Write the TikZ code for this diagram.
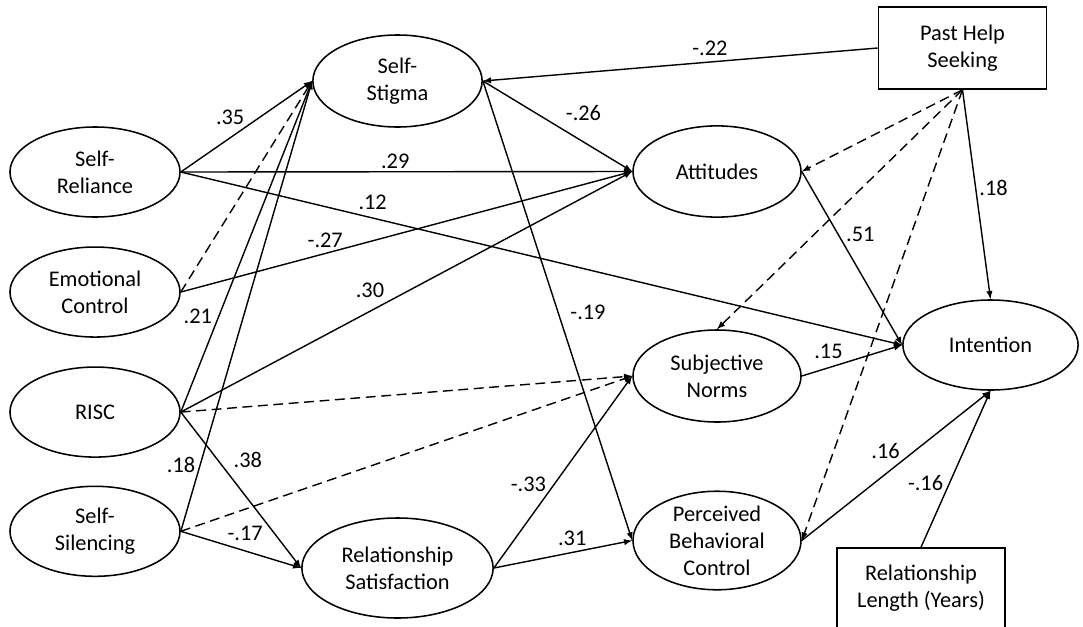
\documentclass[tikz,border=0pt]{standalone}
\usepackage{fontspec}
\setmainfont{Carlito}
\usetikzlibrary{shapes, calc}

\newcommand{\diagfont}{\fontsize{15.9}{19.2}\selectfont}

\begin{document}
\begin{tikzpicture}[x=0.025cm, y=-0.025cm, >=latex]
		\tikzstyle{latent}=[ellipse, draw, line width=1.1pt, minimum width=4.25cm, minimum height=2.25cm, inner sep=0pt, align=center, font=\diagfont]
		\tikzstyle{measured}=[rectangle, draw, line width=1.1pt, minimum width=4.2cm, minimum height=2.05cm, inner sep=0pt, align=center, font=\diagfont]
		\tikzstyle{coef}=[inner sep=0pt, font=\diagfont]
		\tikzstyle{link}=[->, line width=1pt]
		\tikzstyle{covlink}=[link, dash pattern=on 7pt off 4pt]

		\useasboundingbox (0,0) rectangle (1083,626);

		\node[latent] (reliance) at (95,172) {Self-\\Reliance};
		\node[latent, below of=reliance, node distance=3cm] (emotion) {Emotional\\Control};
		\node[latent, below of=emotion, node distance=3cm] (risc) {RISC};
		\node[latent, below of=risc, node distance=2.98cm] (silencing) {Self-\\Silencing};

		\node[latent, minimum width=4.23cm, minimum height=2.3cm] (stigma) at (397.5,81) {Self-\\Stigma};
		\node[latent, minimum width=4.78cm, minimum height=2.5cm] (satisfaction) at (397.5,568) {Relationship\\Satisfaction};

		\node[latent, minimum width=4.2cm, minimum height=2.28cm] (attitudes) at (717,171.5) {Attitudes};
		\node[latent, minimum width=4.2cm, minimum height=2.3cm] (norms) at (717,376) {Subjective\\Norms};
		\node[latent, minimum width=4.2cm, minimum height=2.28cm] (control) at (717,540.5) {Perceived\\Behavioral\\Control};

		\node[latent, minimum width=4.38cm, minimum height=2.25cm] (intention) at (990.5,345) {Intention};

		\node[measured] (past) at (962.5,48) {Past Help\\Seeking};
		\node[measured, minimum height=2cm] (length) at (921,588) {Relationship\\Length (Years)};

		\draw[link] (reliance.east) -- node[coef, pos=.376, shift={(0,-20)}] {.35} (stigma.west);
		\draw[link] (reliance.east) -- node[coef, pos=.475, shift={(0,-10)}] {.29} (attitudes.west);
		\draw[link] (reliance.east) -- node[coef, pos=.266, shift={(0,-16)}] {.12} (intention.west);

		\draw[link] (emotion.east) -- node[coef, pos=.32, shift={(0,-13)}] {-.27} (attitudes.west);
		\draw[covlink] (emotion.east) -- (stigma.west);

		\draw[link] (risc.east) -- node[coef, pos=.29, shift={(-21,0)}] {.21} (stigma.west);
		\draw[link] (risc.east) -- node[coef, pos=.419, shift={(0,-21)}] {.30} (attitudes.west);
		\draw[covlink] (risc.east) -- (norms.west);
		\draw[link] (risc.east) -- node[coef, pos=.308, shift={(30,0)}] {.38} (satisfaction.west);

		\draw[link] (silencing.east) -- node[coef, pos=.147, shift={(-19,0)}] {.18} (stigma.west);
		\draw[covlink] (silencing.east) -- (norms.west);
		\draw[link] (silencing.east) -- node[coef, pos=.535, shift={(0,-18)}] {-.17} (satisfaction.west);

		\draw[link] (stigma.east) -- node[coef, pos=.6, shift={(11,-22)}] {-.26} (attitudes.west);
		\draw[link] (stigma.east) -- node[coef, pos=.503, shift={(30,0)}] {-.19} (control.west);

		\draw[link] (past.west) -- node[coef, pos=.425, shift={(0,-14)}] {-.22} (stigma.east);
		\draw[covlink] (past.south) -- (attitudes.east);
		\draw[covlink] (past.south) -- (norms.north);
		\draw[covlink] (past.south) -- (control.east);
		\draw[link] (past.south) -- node[coef, pos=.469, shift={(18,0)}] {.18} (intention.north);

		\draw[link] (satisfaction.east) -- node[coef, pos=.4375, shift={(-26,0)}] {-.33} (norms.west);
		\draw[link] (satisfaction.east) -- node[coef, pos=.566, shift={(0,-14)}] {.31} (control.west);

		\draw[link] (attitudes.east) -- node[coef, pos=.364, shift={(22,0)}] {.51} (intention.west);
		\draw[link] (norms.east) -- node[coef, pos=.266, shift={(0,-16)}] {.15} (intention.west);
		\draw[link] (control.east) -- node[coef, pos=.444, shift={(0,-23)}] {.16} (intention.south);
		\draw[link] (length.north) -- node[coef, pos=.411, shift={(-24,0)}] {-.16} (intention.south);

	\end{tikzpicture}
\end{document}
